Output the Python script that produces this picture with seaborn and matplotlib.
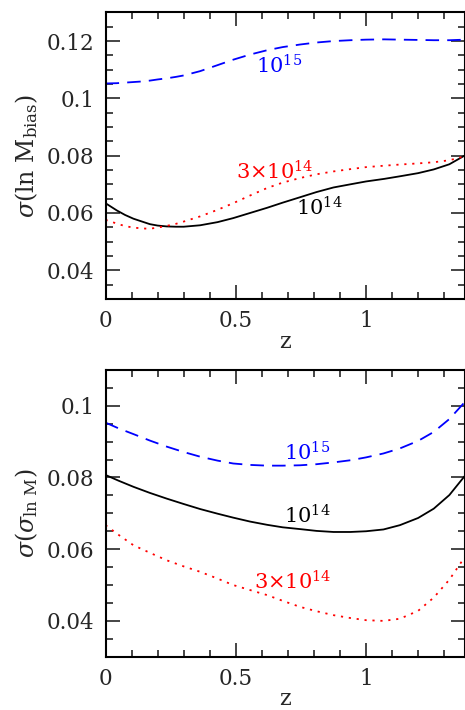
import matplotlib
matplotlib.use("Agg")
import matplotlib.pyplot as plt
import seaborn as sns
import pandas as pd
from matplotlib.ticker import MultipleLocator, FixedLocator

sns.set_theme(style="ticks")
plt.rcParams['font.family'] = ['DejaVu Serif']
plt.rcParams['mathtext.fontset'] = 'dejavuserif'

# ---- data ----
z_top = [0.0, 0.043, 0.075, 0.107, 0.14, 0.17, 0.2, 0.235, 0.27, 0.30, 0.363, 0.43, 0.49, 0.555, 0.62, 0.68,
         0.747, 0.81, 0.875, 0.94, 1.0, 1.07, 1.13, 1.2, 1.26, 1.32, 1.38]
top_1e15 = [0.1052, 0.1053, 0.1055, 0.1057, 0.1059, 0.1062, 0.1066, 0.107, 0.1075, 0.108, 0.1095, 0.1116,
            0.1135, 0.1153, 0.1168, 0.1179, 0.1188, 0.1195, 0.1200, 0.1203, 0.1205, 0.1206, 0.1205,
            0.1204, 0.1203, 0.1203, 0.1205]
top_1e14 = [0.0634, 0.0609, 0.0593, 0.058, 0.057, 0.0561, 0.0556, 0.0553, 0.0552, 0.0552, 0.0557, 0.0568,
            0.0582, 0.0600, 0.0618, 0.0636, 0.0655, 0.0673, 0.0689, 0.0700, 0.0710, 0.0719, 0.0728,
            0.0739, 0.0752, 0.0770, 0.0801]
top_3e14 = [0.0576, 0.0563, 0.0554, 0.0549, 0.0546, 0.0545, 0.0549, 0.0555, 0.0562, 0.0570, 0.0588, 0.0611,
            0.0634, 0.0661, 0.0687, 0.0706, 0.0722, 0.0735, 0.0745, 0.0753, 0.0760, 0.0765, 0.0769,
            0.0773, 0.0777, 0.0784, 0.0798]

z_bot = [0.0, 0.05, 0.107, 0.17, 0.235, 0.30, 0.363, 0.43, 0.49, 0.555, 0.62, 0.68, 0.747, 0.81, 0.875,
         0.94, 1.0, 1.067, 1.13, 1.2, 1.26, 1.32, 1.38]
bot_1e15 = [0.0953, 0.0937, 0.0921, 0.0903, 0.0886, 0.0871, 0.0858, 0.0847, 0.0839, 0.0835, 0.0833,
            0.0833, 0.0834, 0.0837, 0.0842, 0.0848, 0.0856, 0.0867, 0.0881, 0.0902, 0.0927, 0.0963, 0.1011]
bot_1e14 = [0.0807, 0.0791, 0.0774, 0.0757, 0.0741, 0.0726, 0.0712, 0.0699, 0.0688, 0.0677, 0.0668,
            0.0661, 0.0656, 0.0651, 0.0648, 0.0648, 0.0650, 0.0655, 0.0667, 0.0687, 0.0713, 0.0751, 0.0805]
bot_3e14 = [0.0667, 0.0640, 0.0611, 0.0590, 0.0569, 0.0552, 0.0537, 0.0518, 0.0500, 0.0486, 0.0472,
            0.0456, 0.0439, 0.0427, 0.0416, 0.0408, 0.0402, 0.0400, 0.0406, 0.0428, 0.0465, 0.0515, 0.0579]

labels = [r'$10^{15}$', r'$10^{14}$', r'$3{\times}10^{14}$']
colors = ['blue', 'black', 'red']
styles = [(0, (7.5, 4.5)), '-', (0, (1.2, 3.2))]

top_label_pos = [(0.665, 0.1113), (0.82, 0.0618), (0.65, 0.0743)]
bot_label_pos = [(0.773, 0.0869), (0.773, 0.0692), (0.72, 0.0510)]

fig = plt.figure(figsize=(4.65, 7.1), dpi=100)
ax1 = fig.add_axes([0.227, 0.579, 0.773, 0.4035])
ax2 = fig.add_axes([0.227, 0.075, 0.773, 0.404])


def draw(ax, z, series, lpos, ylim, majors, ylabel):
    for y, lab, c, ls, (lx, ly) in zip(series, labels, colors, styles, lpos):
        df = pd.DataFrame({'z': z, 'v': y})
        sns.lineplot(data=df, x='z', y='v', ax=ax, color=c, linestyle=ls, lw=1.3,
                     estimator=None, sort=False)
        ax.text(lx, ly, lab, color=c, fontsize=15, ha='center', va='center')
    ax.set_xlim(0, 1.38)
    ax.set_ylim(*ylim)
    ax.xaxis.set_major_locator(FixedLocator([0, 0.5, 1.0]))
    ax.xaxis.set_minor_locator(MultipleLocator(0.1))
    ax.yaxis.set_major_locator(FixedLocator(majors))
    ax.yaxis.set_minor_locator(MultipleLocator(0.005))
    ax.set_xticklabels(['0', '0.5', '1'])
    ax.set_yticklabels([('%g' % m) for m in majors])
    ax.tick_params(which='both', direction='in', top=True, right=True, labelsize=15.5, width=1.2)
    ax.tick_params(which='major', length=10, pad=8)
    ax.tick_params(which='minor', length=5)
    for s in ax.spines.values():
        s.set_linewidth(1.5)
        s.set_color('black')
    ax.set_xlabel('z', fontsize=16, labelpad=-1)
    ax.set_ylabel(ylabel, fontsize=17, labelpad=5)


draw(ax1, z_top, [top_1e15, top_1e14, top_3e14], top_label_pos, (0.03, 0.13),
     [0.04, 0.06, 0.08, 0.1, 0.12], r'$\sigma(\ln\,\mathrm{M}_{\rm bias})$')
draw(ax2, z_bot, [bot_1e15, bot_1e14, bot_3e14], bot_label_pos, (0.03, 0.11),
     [0.04, 0.06, 0.08, 0.1], r'$\sigma(\sigma_{\ln\,\mathrm{M}})$')

fig.savefig('out.png', dpi=100)
